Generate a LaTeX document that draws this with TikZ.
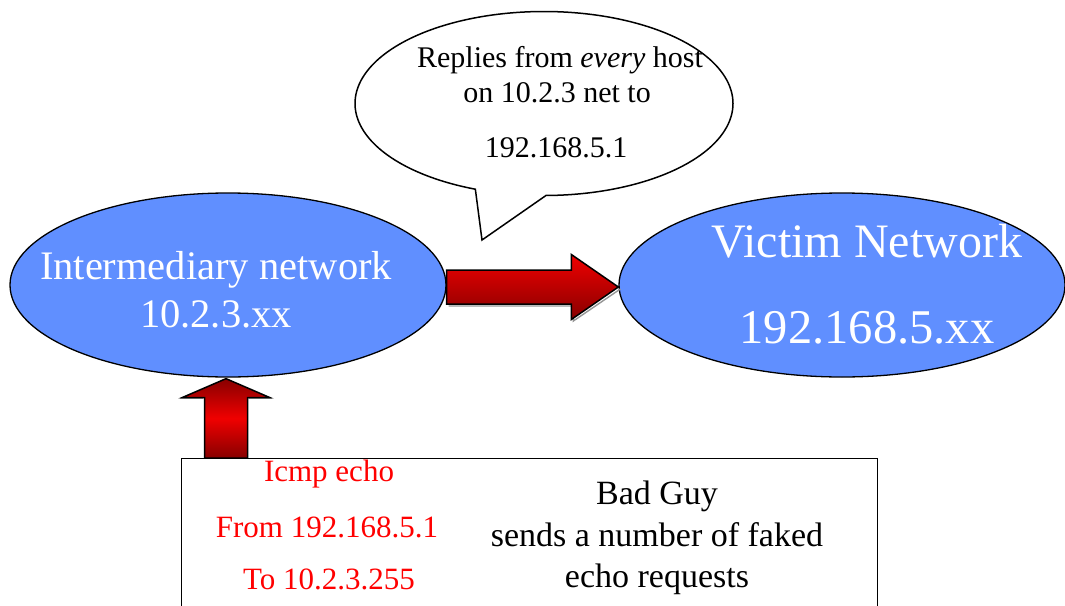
\documentclass[tikz,border=0pt]{standalone}
\usepackage{fontspec}
\setmainfont{Liberation Serif}
\usetikzlibrary{shapes.geometric,calc}
\definecolor{netblue}{RGB}{96,143,255}
\definecolor{arrowred}{RGB}{240,0,0}
\definecolor{arrowdark}{RGB}{135,0,0}
\definecolor{shadowgray}{RGB}{150,150,150}

\begin{document}
\begin{tikzpicture}[x=1pt,y=-1pt,
  net/.style={ellipse, draw=black, line width=1.3pt, fill=netblue, inner sep=0pt},
  nettext/.style={text=white, anchor=base, inner sep=0pt},
  bigarrow/.style={draw=black, line width=1.5pt, line join=miter},
  arrowshadow/.style={draw=shadowgray, line width=1.4pt, line join=miter},
  callout/.style={draw=black, line width=1.5pt, fill=white, line join=miter},
  calltext/.style={anchor=base, inner sep=0pt, font=\fontsize{30}{35}\selectfont},
  redtext/.style={anchor=base, inner sep=0pt, text=red, font=\fontsize{31}{36}\selectfont},
  guytext/.style={anchor=base, inner sep=0pt, font=\fontsize{34}{40}\selectfont},
  boxstyle/.style={draw=black, line width=1.4pt, fill=white, anchor=north west, inner sep=0pt}
]
\useasboundingbox (0,0) rectangle (1065,605);
\fill[white] (0,0) rectangle (1065,605);

% speech bubble with its tail
\draw[callout] plot[domain=111.3:449.4, samples=160, smooth]
  ({544+189*cos(\x)},{103.5+92*sin(\x)}) -- (482,240) -- cycle;
\node[calltext] (reply1) at (560,67) {Replies from \textit{every} host};
\node[calltext] (reply2) at (557,102) {on 10.2.3 net to};
\node[calltext] (reply3) at (556,157) {192.168.5.1};

% the two networks
\node[net, minimum width=436pt, minimum height=184pt] (inter) at (228,285) {};
\node[nettext, font=\fontsize{40.5}{48}\selectfont] (intername) at ($(inter)+(-12,-6)$) {Intermediary network};
\node[nettext, font=\fontsize{40.5}{48}\selectfont] (interaddr) at ($(inter)+(-12,42)$) {10.2.3.xx};

\node[net, minimum width=446pt, minimum height=184pt] (victim) at (842,285) {};
\node[nettext, font=\fontsize{48}{56}\selectfont] (victimname) at ($(victim)+(25,-28)$) {Victim Network};
\node[nettext, font=\fontsize{48.5}{56}\selectfont] (victimaddr) at ($(victim)+(25,58)$) {192.168.5.xx};

% attacker box
\node[boxstyle, minimum width=696pt, minimum height=170pt] (box) at (181,458) {};
\node[redtext] (icmp) at (329,481) {Icmp echo};
\node[redtext] (from) at (327,537) {From 192.168.5.1};
\node[redtext] (to) at (329,589) {To 10.2.3.255};
\node[guytext] (guy1) at (657,504) {Bad Guy};
\node[guytext] (guy2) at (657,546) {sends a number of faked};
\node[guytext] (guy3) at (657,587) {echo requests};

% block arrow: intermediary network -> victim network
\coordinate (hs) at ($(inter.east)+(0,2)$);
\coordinate (ht) at ($(victim.west)+(0,2)$);
\draw[arrowshadow] ($(hs)+(2,19)$) -- ($(ht)+(-45,19)$) -- ($(ht)+(-45,34)$) -- ($(ht)+(2,2)$);
\shade[bigarrow, top color=arrowred, bottom color=arrowdark]
  ($(hs)+(0,-17)$) -- ($(ht)+(-47,-17)$) -- ($(ht)+(-47,-32.5)$) -- (ht)
  -- ($(ht)+(-47,32.5)$) -- ($(ht)+(-47,17)$) -- ($(hs)+(0,17)$) -- cycle;

% block arrow: attacker box -> intermediary network
\coordinate (vt) at ($(inter.south)+(-2,1)$);
\coordinate (vb) at (vt |- box.north);
\draw[arrowshadow] ($(vt)+(-46,20)$) -- ($(vt)+(-23,20)$);
\draw[arrowshadow] ($(vt)+(46,20)$) -- ($(vt)+(23,20)$);
\shade[bigarrow, top color=arrowdark, bottom color=arrowdark, middle color=arrowred]
  (vt) -- ($(vt)+(44,19)$) -- ($(vt)+(21.5,19)$) -- ($(vb)+(21.5,0)$)
  -- ($(vb)+(-21.5,0)$) -- ($(vt)+(-21.5,19)$) -- ($(vt)+(-44,19)$) -- cycle;
\end{tikzpicture}
\end{document}
